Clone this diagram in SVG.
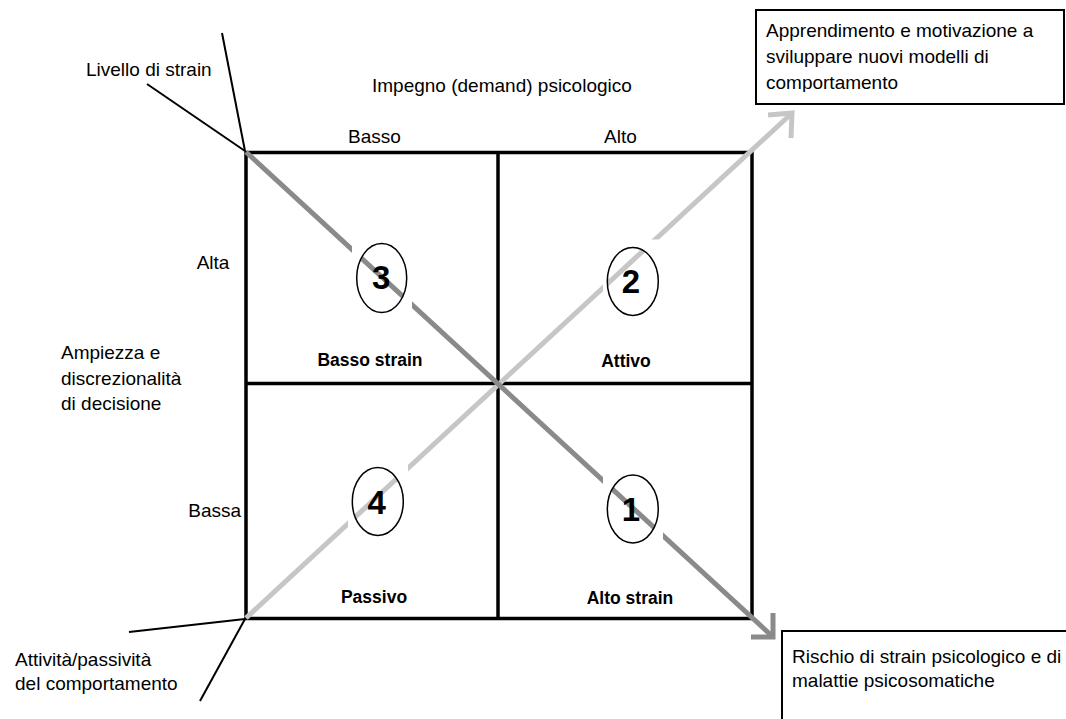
<svg xmlns="http://www.w3.org/2000/svg" width="1066" height="719" viewBox="0 0 1066 719">
<style>
text{font-family:"Liberation Sans",Arial,sans-serif;fill:#000}
.t{font-size:19px}
.b{font-size:17.5px;font-weight:bold;text-anchor:middle}
.n{font-size:33px;font-weight:bold;text-anchor:middle}
.grid{fill:none;stroke:#000;stroke-width:3.5}
.ax{stroke:#000;stroke-width:2;fill:none}
.dark{stroke:#8a8a8a;stroke-width:5;fill:none}
.light{stroke:#c6c6c6;stroke-width:5;fill:none}
.mask{fill:#fff;fill-rule:evenodd}
.ell{fill:none;stroke:#000;stroke-width:1.5}
.box{fill:#fff;stroke:#000;stroke-width:2}
</style>
<defs>
<clipPath id="clipTop"><rect x="756" y="10" width="310" height="82"/></clipPath>
</defs>
<rect width="1066" height="719" fill="#fff"/>

<g id="axes-lines">
<line class="ax" x1="222" y1="33" x2="245" y2="151"/>
<line class="ax" x1="147" y1="84" x2="245" y2="151"/>
<line class="ax" x1="129" y1="632" x2="245" y2="619"/>
<line class="ax" x1="245" y1="619" x2="200" y2="701"/>
</g>

<g id="grid">
<rect class="grid" x="246" y="152.5" width="506" height="466"/>
<line class="grid" x1="498" y1="152.5" x2="498" y2="618.5"/>
<line class="grid" x1="246" y1="383.5" x2="752" y2="383.5"/>
</g>

<g id="connectors">
<line class="light" x1="246" y1="618" x2="791" y2="114"/>
<polyline class="light" points="768,115 792,113 791,138" stroke-linejoin="miter"/>
<line class="dark" x1="246" y1="152" x2="772" y2="636"/>
<polyline class="dark" points="773,613 773,637 751,637" stroke-linejoin="miter"/>
</g>

<g id="masks">
<path class="mask" d="M352,236h60v84h-60z M356.7,278a25,34.5 0 1,0 50,0a25,34.5 0 1,0 -50,0z"/>
<path class="mask" d="M603,239.5h60v84h-60z M607.3,281.5a25.5,34 0 1,0 51,0a25.5,34 0 1,0 -51,0z"/>
<path class="mask" d="M348,459.5h60v84h-60z M352.3,501.5a25.5,34 0 1,0 51,0a25.5,34 0 1,0 -51,0z"/>
<path class="mask" d="M603,467h60v84h-60z M607.3,509a25.5,34 0 1,0 51,0a25.5,34 0 1,0 -51,0z"/>
</g>

<g id="q3">
<ellipse class="ell" cx="381.7" cy="278" rx="25" ry="34.5"/>
<text class="n" x="381.3" y="289">3</text>
<text class="b" x="370" y="366">Basso strain</text>
</g>
<g id="q2">
<ellipse class="ell" cx="632.8" cy="281.5" rx="25.5" ry="34"/>
<text class="n" x="631" y="293">2</text>
<text class="b" x="626" y="367">Attivo</text>
</g>
<g id="q4">
<ellipse class="ell" cx="377.8" cy="501.5" rx="25.5" ry="34"/>
<text class="n" x="376.7" y="514">4</text>
<text class="b" x="374" y="603">Passivo</text>
</g>
<g id="q1">
<ellipse class="ell" cx="632.8" cy="509" rx="25.5" ry="34"/>
<text class="n" x="631" y="521">1</text>
<text class="b" x="630" y="604">Alto strain</text>
</g>

<g id="labels">
<text class="t" x="86" y="76">Livello di strain</text>
<text class="t" x="372" y="92">Impegno (demand) psicologico</text>
<text class="t" x="348" y="143">Basso</text>
<text class="t" x="604" y="143">Alto</text>
<text class="t" x="196.7" y="269">Alta</text>
<text class="t" x="188.3" y="517">Bassa</text>
<text class="t" x="61" y="359">Ampiezza e</text>
<text class="t" x="61" y="385">discrezionalità</text>
<text class="t" x="61" y="410">di decisione</text>
<text class="t" x="15" y="666">Attività/passività</text>
<text class="t" x="15" y="690">del comportamento</text>
</g>

<g id="box-top">
<rect class="box" x="756" y="10" width="308" height="94"/>
<g clip-path="url(#clipTop)">
<text class="t" x="766" y="37">Apprendimento e motivazione a</text>
<text class="t" x="766" y="63">sviluppare nuovi modelli di</text>
<text class="t" x="766" y="89">comportamento</text>
</g>
</g>

<g id="box-bottom">
<rect class="box" x="782" y="631" width="300" height="100"/>
<text class="t" x="792" y="663">Rischio di strain psicologico e di</text>
<text class="t" x="792" y="687">malattie psicosomatiche</text>
</g>
</svg>
